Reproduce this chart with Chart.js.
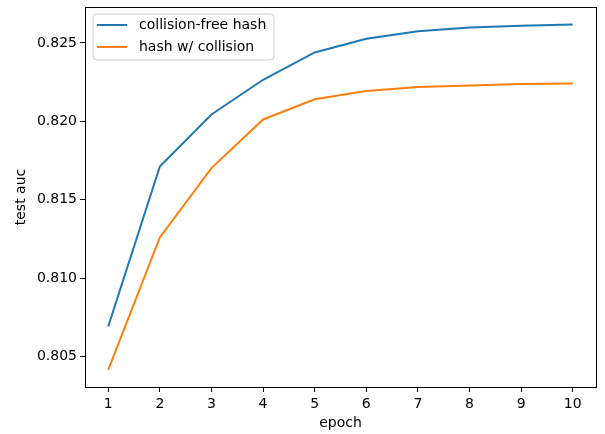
<!DOCTYPE html>
<html>
<head>
<meta charset="utf-8">
<script src="https://cdn.jsdelivr.net/npm/chart.js@4/dist/chart.umd.min.js"></script>
<style>
  html, body { margin: 0; padding: 0; background: #fff; }
  #wrap { width: 605px; height: 434px; position: relative; }
</style>
</head>
<body>
<div id="wrap"><canvas id="c"></canvas></div>
<script>
const epochs = [1, 2, 3, 4, 5, 6, 7, 8, 9, 10];
const collisionFree = [0.80692, 0.81712, 0.82044, 0.82265, 0.82439, 0.82527, 0.82575, 0.82599, 0.82610, 0.82618];
const withCollision = [0.80415, 0.81260, 0.81702, 0.82012, 0.82141, 0.82194, 0.82219, 0.82229, 0.82238, 0.82242];
const seriesLabels = ['collision-free hash', 'hash w/ collision'];
const yTicks = [0.805, 0.810, 0.815, 0.820, 0.825];
const xTitle = 'epoch';
const yTitle = 'test auc';

const FONT = 'DejaVu Sans';
Chart.defaults.font.family = FONT;
Chart.defaults.font.size = 14;
Chart.defaults.color = '#000';

const toPts = arr => epochs.map((e, i) => ({ x: e, y: arr[i] }));

const framePlugin = {
  id: 'frame',
  afterDraw(chart) {
    const { ctx, chartArea: a } = chart;
    ctx.save();
    ctx.strokeStyle = '#000';
    ctx.lineWidth = 1;
    const l = Math.floor(a.left) + 0.5, t = Math.floor(a.top) + 0.5;
    const r = Math.floor(a.right) + 0.5, b = Math.floor(a.bottom) + 0.5;
    ctx.strokeRect(l, t, r - l, b - t);
    ctx.restore();

    // legend
    const ds = chart.data.datasets;
    const bx = 93, by = 14, bw = 181, bh = 46, rad = 4;
    ctx.save();
    ctx.beginPath();
    ctx.moveTo(bx + rad, by);
    ctx.arcTo(bx + bw, by, bx + bw, by + bh, rad);
    ctx.arcTo(bx + bw, by + bh, bx, by + bh, rad);
    ctx.arcTo(bx, by + bh, bx, by, rad);
    ctx.arcTo(bx, by, bx + bw, by, rad);
    ctx.closePath();
    ctx.fillStyle = 'rgba(255,255,255,0.8)';
    ctx.fill();
    ctx.strokeStyle = '#cccccc';
    ctx.lineWidth = 1;
    ctx.stroke();
    ctx.font = '14px "' + FONT + '"';
    ctx.textBaseline = 'middle';
    ctx.textAlign = 'left';
    ds.forEach((d, i) => {
      const y = 25 + i * 22;
      ctx.beginPath();
      ctx.moveTo(97, y);
      ctx.lineTo(127, y);
      ctx.strokeStyle = d.borderColor;
      ctx.lineWidth = 2;
      ctx.stroke();
      ctx.fillStyle = '#000';
      ctx.fillText(d.label, 139, y + 0.5);
    });
    ctx.restore();
  }
};

new Chart(document.getElementById('c'), {
  type: 'line',
  data: {
    datasets: [
      { label: seriesLabels[0], data: toPts(collisionFree), borderColor: '#1f77b4', borderWidth: 2, pointRadius: 0, tension: 0, fill: false },
      { label: seriesLabels[1], data: toPts(withCollision), borderColor: '#ff7f0e', borderWidth: 2, pointRadius: 0, tension: 0, fill: false }
    ]
  },
  options: {
    responsive: true,
    maintainAspectRatio: false,
    animation: false,
    layout: { padding: { top: 7, right: 9, left: 0, bottom: 0 } },
    plugins: { legend: { display: false }, tooltip: { enabled: false } },
    scales: {
      x: {
        type: 'linear',
        min: 0.55,
        max: 10.45,
        afterBuildTicks: s => { s.ticks = epochs.map(v => ({ value: v })); },
        afterFit: s => { s.height = 47; s.paddingLeft = 0; s.paddingRight = 0; },
        ticks: { callback: v => String(v), padding: 4, maxRotation: 0, autoSkip: false, font: { size: 14 } },
        grid: { drawOnChartArea: false, drawTicks: true, tickLength: 5, color: '#000', lineWidth: 1 },
        border: { display: false },
        title: { display: true, text: xTitle, font: { size: 14 }, padding: { top: 0, bottom: 2.6 } }
      },
      y: {
        type: 'linear',
        min: 0.80306,
        max: 0.82729,
        afterBuildTicks: s => { s.ticks = yTicks.map(v => ({ value: v })); },
        afterFit: s => { s.width = 85; s.paddingTop = 0; s.paddingBottom = 0; },
        ticks: { callback: v => Number(v).toFixed(3), padding: 3, autoSkip: false, font: { size: 14 } },
        grid: { drawOnChartArea: false, drawTicks: true, tickLength: 5, color: '#000', lineWidth: 1 },
        border: { display: false },
        title: { display: true, text: yTitle, font: { size: 14 }, padding: { top: 12.6, bottom: 0 } }
      }
    }
  },
  plugins: [framePlugin]
});
</script>
</body>
</html>
